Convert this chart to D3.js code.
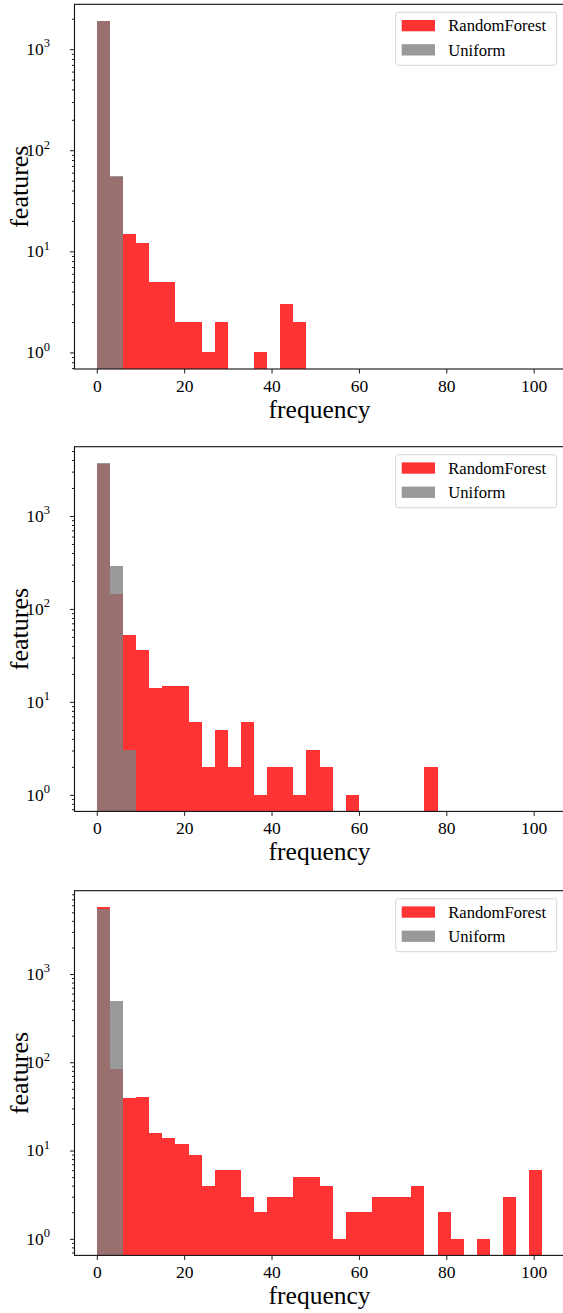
<!DOCTYPE html>
<html>
<head>
<meta charset="utf-8">
<script src="https://cdn.jsdelivr.net/npm/d3@7"></script>
<style>
  html, body { margin: 0; padding: 0; background: #fff; }
  svg { display: block; }
  text { font-family: "Liberation Serif", "Times New Roman", serif; fill: #000; }
</style>
</head>
<body>
<svg id="chart" width="563" height="1313"></svg>
<script>
// ---- data ----
const binEdges = [0,3,6,9,12,15,18,21,24,27,30,33,36,39,42,45,48,51,54,57,60,63,66,69,72,75,78,81,84,87,90,93,96,99,102];
const xTickValues = [0, 20, 40, 60, 80, 100];
const seriesNames = ["RandomForest", "Uniform"];

const rf1  = [1880,54,15,12,5,5,2,2,1,2,0,0,1,0,3,2,0,0,0,0,0,0,0,0,0,0,0,0,0,0,0,0,0,0];
const uni1 = [1905,55,0,0,0,0,0,0,0,0,0,0,0,0,0,0,0,0,0,0,0,0,0,0,0,0,0,0,0,0,0,0,0,0];

const rf2  = [3650,145,52,36,14,15,15,6,2,5,2,6,1,2,2,1,3,2,0,1,0,0,0,0,0,2,0,0,0,0,0,0,0,0];
const uni2 = [3690,292,3,0,0,0,0,0,0,0,0,0,0,0,0,0,0,0,0,0,0,0,0,0,0,0,0,0,0,0,0,0,0,0];

const rf3  = [5700,85,39,40,16,14,12,9,4,6,6,3,2,3,3,5,5,4,1,2,2,3,3,3,4,0,2,1,0,1,0,3,0,6];
const uni3 = [5450,493,0,0,0,0,0,0,0,0,0,0,0,0,0,0,0,0,0,0,0,0,0,0,0,0,0,0,0,0,0,0,0,0];

const panels = [
  { rf: rf1, uni: uni1 },
  { rf: rf2, uni: uni2 },
  { rf: rf3, uni: uni3 }
];

// ---- layout ----
const svg = d3.select("#chart");
const axLeft = 74.5, axRight = 564.7;
const panelTops = [4.3, 446.7, 890.7];
const panelH = 364.7;
const RED = "rgb(255,0,0)", GRAY = "rgb(128,128,128)", ALPHA = 0.8;

const xMin = binEdges[0], xMax = binEdges[binEdges.length - 1];
const xPad = (xMax - xMin) * 0.05;
const x = d3.scaleLinear().domain([xMin - xPad, xMax + xPad]).range([axLeft, axRight]);

panels.forEach((p, i) => {
  const top = panelTops[i], bottom = top + panelH;
  const all = p.rf.concat(p.uni).filter(v => v > 0);
  const lo = Math.log10(d3.min(all)), hi = Math.log10(d3.max(all));
  const m = (hi - lo) * 0.05;
  const y = d3.scaleLog().domain([Math.pow(10, lo - m), Math.pow(10, hi + m)]).range([bottom, top]);

  const g = svg.append("g");
  const clipId = "clip" + i;
  g.append("clipPath").attr("id", clipId).append("rect")
    .attr("x", axLeft).attr("y", top).attr("width", axRight - axLeft).attr("height", panelH);

  const bars = g.append("g").attr("clip-path", `url(#${clipId})`).attr("shape-rendering", "crispEdges");
  [[p.rf, RED], [p.uni, GRAY]].forEach(([vals, col]) => {
    const data = vals.map((v, k) => ({ v, x0: binEdges[k], x1: binEdges[k + 1] })).filter(d => d.v > 0);
    bars.append("g").selectAll("rect").data(data).join("rect")
      .attr("x", d => x(d.x0))
      .attr("width", d => x(d.x1) - x(d.x0))
      .attr("y", d => y(d.v))
      .attr("height", d => bottom - y(d.v))
      .attr("fill", col).attr("fill-opacity", ALPHA);
  });

  // y axis ticks (major & minor)
  const [d0, d1] = y.domain();
  const majors = [], minors = [];
  for (let e = Math.floor(Math.log10(d0)); e <= Math.ceil(Math.log10(d1)); e++) {
    for (let k = 1; k <= 9; k++) {
      const v = k * Math.pow(10, e);
      if (v >= d0 && v <= d1) (k === 1 ? majors : minors).push(v);
    }
  }
  const yAxisMinor = d3.axisLeft(y).tickValues(minors).tickSize(2.5).tickFormat("");
  const yAxisMajor = d3.axisLeft(y).tickValues(majors).tickSize(4.5).tickFormat("");
  [yAxisMinor, yAxisMajor].forEach(ax => {
    const a = g.append("g").attr("transform", `translate(${axLeft},0)`).call(ax);
    a.select(".domain").remove();
    a.selectAll("line").attr("stroke", "#000").attr("stroke-width", 0.9);
  });
  // y tick labels 10^k
  const lab = g.append("g");
  majors.forEach(v => {
    const e = Math.round(Math.log10(v));
    const t = lab.append("text").attr("x", 50).attr("y", y(v) + 5.8)
      .attr("text-anchor", "end").style("font-size", "17.5px");
    t.append("tspan").text("10");
    t.append("tspan").attr("dy", -7.5).style("font-size", "12.5px").text(String(e));
  });

  // x axis
  const xa = g.append("g").attr("transform", `translate(0,${bottom})`)
    .call(d3.axisBottom(x).tickValues(xTickValues).tickSize(4.5).tickPadding(6));
  xa.select(".domain").remove();
  xa.selectAll("line").attr("stroke", "#000").attr("stroke-width", 0.9);
  xa.selectAll("text").style("font-size", "17.5px").style("font-family", '"Liberation Serif", serif')
    .attr("dy", null).attr("y", 23);

  // spines
  g.append("rect").attr("x", axLeft).attr("y", top).attr("width", axRight - axLeft).attr("height", panelH)
    .attr("fill", "none").attr("stroke", "#111").attr("stroke-width", 1.1);

  // axis labels
  g.append("text").attr("x", (axLeft + axRight) / 2).attr("y", bottom + 49)
    .attr("text-anchor", "middle").style("font-size", "25.5px").text("frequency");
  g.append("text").attr("transform", `translate(28,${(top + bottom) / 2}) rotate(-90)`)
    .attr("text-anchor", "middle").style("font-size", "26px").text("features");

  // legend
  const lg = g.append("g").attr("transform", `translate(0,${top})`);
  lg.append("rect").attr("x", 395.7).attr("y", 8).attr("width", 161).attr("height", 53)
    .attr("rx", 2.5).attr("fill", "#fff").attr("fill-opacity", 0.8)
    .attr("stroke", "#d6d6d6").attr("stroke-width", 1);
  [RED, GRAY].forEach((col, k) => {
    lg.append("rect").attr("x", 401.7).attr("y", 15.7 + k * 24.2).attr("width", 33.3).attr("height", 11.3)
      .attr("fill", col).attr("fill-opacity", ALPHA);
    lg.append("text").attr("x", 448.3).attr("y", 27.2 + k * 24.2)
      .style("font-size", "16.6px").text(seriesNames[k]);
  });
});
</script>
</body>
</html>
